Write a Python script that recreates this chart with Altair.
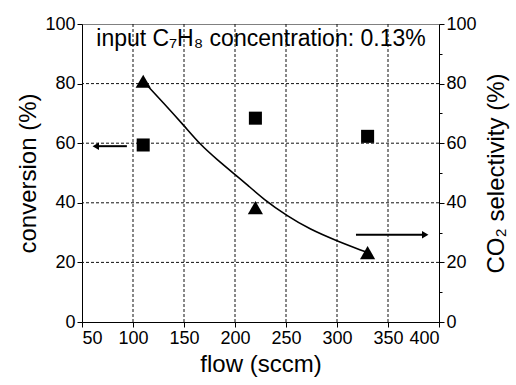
import altair as alt
import pandas as pd

# ---- data ----
flow = [110, 220, 330]
conversion = [59.4, 68.4, 62.3]          # squares, left axis
selectivity = [80.8, 38.4, 23.3]         # triangles, right axis

fit_flow = [110, 129.7, 150.3, 165.7, 182.1, 201.7, 211.5, 228, 251, 273.5, 300, 326, 330]
fit_sel = [80.8, 73.6, 65.8, 59.6, 54.6, 49.0, 46.2, 41.2, 35.6, 31.1, 27.2, 23.8, 23.3]

grid_x = [100, 150, 200, 250, 300, 350]
grid_y = [20, 40, 60, 80]

x_ticks = [50, 75, 100, 125, 150, 175, 200, 225, 250, 275, 300, 325, 350, 375, 400]
y_ticks = [0, 10, 20, 30, 40, 50, 60, 70, 80, 90, 100]

annotation = "input C\u2087H\u2088 concentration: 0.13%"

FONT = "Liberation Sans"

pts = pd.DataFrame({"flow": flow, "conversion": conversion, "selectivity": selectivity})
fit = pd.DataFrame({"flow": fit_flow, "sel": fit_sel})
gx = pd.DataFrame({"v": grid_x})
gy = pd.DataFrame({"v": grid_y})
one = pd.DataFrame({"k": [0]})

xscale = alt.Scale(domain=[50, 400], nice=False, zero=False)
yscale = alt.Scale(domain=[0, 100], nice=False)

tick_size_x = {"condition": {"test": "datum.value % 50 === 0", "value": 5}, "value": 3}
tick_size_y = {"condition": {"test": "datum.value % 20 === 0", "value": 5}, "value": 3}

common = dict(labelFont=FONT, titleFont=FONT, labelFontSize=18, titleFontSize=24,
              titleFontWeight="normal", labelColor="black", titleColor="black",
              domainColor="black", tickColor="black", grid=False, labelPadding=2)

xaxis = alt.Axis(values=x_ticks, labelExpr="datum.value % 50 === 0 ? datum.label : ''",
                 title="flow (sccm)", tickSize=tick_size_x, titlePadding=5, **common)
yaxis_left = alt.Axis(values=y_ticks, labelExpr="datum.value % 20 === 0 ? datum.label : ''",
                      title="conversion (%)", tickSize=tick_size_y, titlePadding=4, **common)
yaxis_right = alt.Axis(values=y_ticks, labelExpr="datum.value % 20 === 0 ? datum.label : ''",
                       title="CO\u2082 selectivity (%)", orient="right",
                       tickSize=tick_size_y, titleAngle=270, titleBaseline="top",
                       titlePadding=8, **common)

dash = dict(color="#111111", strokeDash=[3, 2], strokeWidth=1)

vgrid = alt.Chart(gx).mark_rule(**dash).encode(x=alt.X("v:Q", scale=xscale, axis=xaxis))
hgrid = alt.Chart(gy).mark_rule(**dash).encode(y=alt.Y("v:Q", scale=yscale, axis=yaxis_left))

squares = alt.Chart(pts).mark_point(shape="square", filled=True, color="black", size=170, opacity=1).encode(
    x=alt.X("flow:Q", scale=xscale),
    y=alt.Y("conversion:Q", scale=yscale),
)

curve = alt.Chart(fit).mark_line(color="black", strokeWidth=1.6, interpolate="basis").encode(
    x=alt.X("flow:Q", scale=xscale),
    y=alt.Y("sel:Q", scale=yscale),
)

# arrows
left_shaft = alt.Chart(one).mark_rule(color="black", strokeWidth=2).encode(
    x=alt.datum(94), x2=alt.datum(64), y=alt.datum(59))
left_head = alt.Chart(one).mark_point(shape="triangle-left", filled=True, color="black", size=55, opacity=1).encode(
    x=alt.datum(63.5), y=alt.datum(59))
right_shaft = alt.Chart(one).mark_rule(color="black", strokeWidth=2).encode(
    x=alt.datum(318.6), x2=alt.datum(386), y=alt.datum(29.3))
right_head = alt.Chart(one).mark_point(shape="triangle-right", filled=True, color="black", size=55, opacity=1).encode(
    x=alt.datum(386.5), y=alt.datum(29.3))

text = alt.Chart(one).mark_text(align="left", baseline="alphabetic", font=FONT, fontSize=23, color="black").encode(
    x=alt.datum(64), y=alt.datum(92.5), text=alt.value(annotation))

left = alt.layer(vgrid, hgrid, squares, curve, left_shaft, left_head, right_shaft, right_head, text)

triangles = alt.Chart(pts).mark_point(shape="triangle-up", filled=True, color="black", size=230, opacity=1).encode(
    x=alt.X("flow:Q", scale=xscale),
    y=alt.Y("selectivity:Q", scale=yscale, axis=yaxis_right),
)

chart = alt.layer(left, triangles).resolve_scale(y="independent").properties(
    width=357, height=298,
    autosize=alt.AutoSizeParams(type="none"),
    padding={"left": 82, "top": 24, "right": 77, "bottom": 62},
    background="white",
).configure_view(stroke="#808080", strokeWidth=1)

chart.save("out.html", embed_options={"renderer": "svg", "actions": False})
